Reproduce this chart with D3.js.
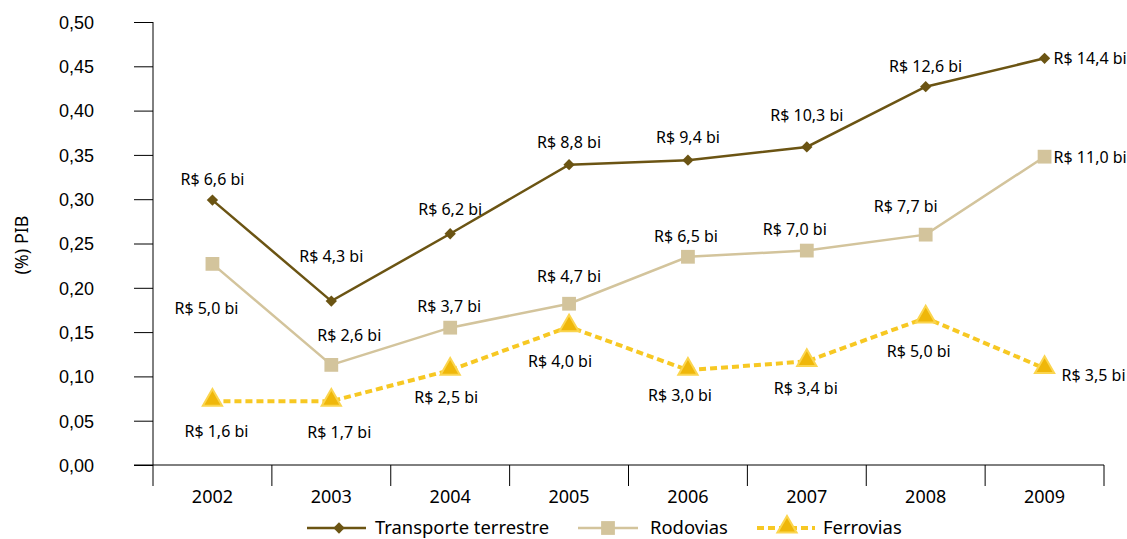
<!DOCTYPE html>
<html>
<head>
<meta charset="utf-8">
<script src="https://cdn.jsdelivr.net/npm/d3@7"></script>
<style>
  html, body { margin: 0; padding: 0; background: #fff; }
  svg { display: block; font-family: "Noto Sans", "Open Sans", sans-serif; }
</style>
</head>
<body>
<svg id="chart" width="1127" height="539"></svg>
<script>
// Investment in land transport as share of GDP, 2002–2009
const years = ["2002", "2003", "2004", "2005", "2006", "2007", "2008", "2009"];
const transporte = [0.299, 0.185, 0.261, 0.339, 0.344, 0.359, 0.427, 0.459];
const rodovias   = [0.227, 0.113, 0.155, 0.182, 0.235, 0.242, 0.260, 0.348];
const ferrovias  = [0.072, 0.072, 0.107, 0.156, 0.107, 0.117, 0.166, 0.109];
const transporteLabels = ["R$ 6,6 bi", "R$ 4,3 bi", "R$ 6,2 bi", "R$ 8,8 bi", "R$ 9,4 bi", "R$ 10,3 bi", "R$ 12,6 bi", "R$ 14,4 bi"];
const rodoviasLabels   = ["R$ 5,0 bi", "R$ 2,6 bi", "R$ 3,7 bi", "R$ 4,7 bi", "R$ 6,5 bi", "R$ 7,0 bi", "R$ 7,7 bi", "R$ 11,0 bi"];
const ferroviasLabels  = ["R$ 1,6 bi", "R$ 1,7 bi", "R$ 2,5 bi", "R$ 4,0 bi", "R$ 3,0 bi", "R$ 3,4 bi", "R$ 5,0 bi", "R$ 3,5 bi"];
const yTicks = [0, 0.05, 0.10, 0.15, 0.20, 0.25, 0.30, 0.35, 0.40, 0.45, 0.50];

// label placement relative to each point: [dx, dy, anchor]
const transporteOffsets = [[0,-21,"middle"],[0,-45,"middle"],[0,-24,"middle"],[0,-22,"middle"],[0,-23,"middle"],[0,-32,"middle"],[0,-20,"middle"],[9,0,"start"]];
const rodoviasOffsets   = [[-6,45,"middle"],[18,-29,"middle"],[-1,-21,"middle"],[0,-27,"middle"],[-2,-20,"middle"],[-12,-21,"middle"],[-20,-28,"middle"],[9,1,"start"]];
const ferroviasOffsets  = [[4,30,"middle"],[8,31,"middle"],[-4,27,"middle"],[-9,35,"middle"],[-8,25,"middle"],[-1,27,"middle"],[-7,33,"middle"],[17,7,"start"]];

const colTrans = "#6b5413";
const colRod = "#d3c49c";
const colFer = "#f7c823";
const colFerMark = "#efb70a";
const colFerEdge = "#fbd54f";

const svg = d3.select("#chart");
const plotLeft = 153, plotRight = 1104, plotTop = 22, plotBottom = 465;

const x = d3.scaleBand().domain(years).range([plotLeft, plotRight]);
const y = d3.scaleLinear().domain([0, 0.5]).range([plotBottom, plotTop]);
const fmt = v => d3.format(".2f")(v).replace(".", ",");

// y axis
const yAxis = svg.append("g")
  .attr("transform", `translate(${plotLeft},0)`)
  .call(d3.axisLeft(y).tickValues(yTicks).tickFormat(fmt).tickSize(19).tickSizeOuter(0));
yAxis.select(".domain").remove();
yAxis.selectAll(".tick line").attr("stroke", "#000").attr("stroke-width", 1);
yAxis.selectAll(".tick text").attr("font-size", 18).attr("fill", "#000").attr("x", -59).attr("text-anchor", "end").attr("dy", "0.35em");
svg.append("line").attr("x1", plotLeft).attr("x2", plotLeft).attr("y1", plotTop).attr("y2", plotBottom + 21)
  .attr("stroke", "#000").attr("stroke-width", 1);

// x axis: baseline, category separators and labels
svg.append("line").attr("x1", plotLeft - 19).attr("x2", plotRight).attr("y1", plotBottom).attr("y2", plotBottom)
  .attr("stroke", "#000").attr("stroke-width", 1);
const bounds = years.map(d => x(d)).concat([x(years[years.length - 1]) + x.bandwidth()]);
svg.append("g").selectAll("line").data(bounds.slice(1)).join("line")
  .attr("x1", d => d).attr("x2", d => d).attr("y1", plotBottom).attr("y2", plotBottom + 21)
  .attr("stroke", "#000").attr("stroke-width", 1);
svg.append("g").selectAll("text").data(years).join("text")
  .attr("x", d => x(d) + x.bandwidth() / 2).attr("y", plotBottom + 38)
  .attr("text-anchor", "middle").attr("font-size", 18).attr("fill", "#000").text(d => d);

// y axis title
svg.append("text").attr("transform", "translate(28,245) rotate(-90)")
  .attr("text-anchor", "middle").attr("font-size", 18).attr("fill", "#000").text("(%) PIB");

const cx = i => x(years[i]) + x.bandwidth() / 2;
const line = d3.line().x((d, i) => cx(i)).y(d => y(d));

const diamond = d3.symbol().type(d3.symbolSquare).size(64);
const square = d3.symbol().type(d3.symbolSquare).size(190);
const triangle = d3.symbol().type(d3.symbolTriangle).size(160);

// Ferrovias (drawn first, underneath)
svg.append("path").datum(ferrovias).attr("d", line)
  .attr("fill", "none").attr("stroke", colFer).attr("stroke-width", 4).attr("stroke-dasharray", "7,4");
svg.append("g").selectAll("path").data(ferrovias).join("path")
  .attr("d", triangle).attr("transform", (d, i) => `translate(${cx(i)},${y(d) - 1})`)
  .attr("fill", colFerMark).attr("stroke", colFerEdge).attr("stroke-width", 2);

// Rodovias
svg.append("path").datum(rodovias).attr("d", line)
  .attr("fill", "none").attr("stroke", colRod).attr("stroke-width", 2.5);
svg.append("g").selectAll("path").data(rodovias).join("path")
  .attr("d", square).attr("transform", (d, i) => `translate(${cx(i)},${y(d)})`)
  .attr("fill", colRod);

// Transporte terrestre
svg.append("path").datum(transporte).attr("d", line)
  .attr("fill", "none").attr("stroke", colTrans).attr("stroke-width", 2.5);
svg.append("g").selectAll("path").data(transporte).join("path")
  .attr("d", diamond).attr("transform", (d, i) => `translate(${cx(i)},${y(d)}) rotate(45)`)
  .attr("fill", colTrans);

// value labels
function labels(values, texts, offsets) {
  svg.append("g").selectAll("text").data(values).join("text")
    .attr("x", (d, i) => cx(i) + offsets[i][0])
    .attr("y", (d, i) => y(d) + offsets[i][1])
    .attr("dy", "0.35em")
    .attr("text-anchor", (d, i) => offsets[i][2])
    .attr("font-size", 16).attr("fill", "#000")
    .text((d, i) => texts[i]);
}
labels(transporte, transporteLabels, transporteOffsets);
labels(rodovias, rodoviasLabels, rodoviasOffsets);
labels(ferrovias, ferroviasLabels, ferroviasOffsets);

// legend
const ly = 528;
const lg = svg.append("g");
lg.append("line").attr("x1", 307).attr("x2", 366).attr("y1", ly).attr("y2", ly).attr("stroke", colTrans).attr("stroke-width", 2.5);
lg.append("path").attr("d", diamond).attr("transform", `translate(339,${ly}) rotate(45)`).attr("fill", colTrans);
lg.append("text").attr("x", 375).attr("y", ly).attr("dy", "0.33em").attr("font-size", 18.4).text("Transporte terrestre");

lg.append("line").attr("x1", 578).attr("x2", 638).attr("y1", ly).attr("y2", ly).attr("stroke", colRod).attr("stroke-width", 2.5);
lg.append("path").attr("d", square).attr("transform", `translate(608,${ly})`).attr("fill", colRod);
lg.append("text").attr("x", 650).attr("y", ly).attr("dy", "0.33em").attr("font-size", 18.4).text("Rodovias");

lg.append("line").attr("x1", 757).attr("x2", 815).attr("y1", ly).attr("y2", ly).attr("stroke", colFer).attr("stroke-width", 4).attr("stroke-dasharray", "7,4");
lg.append("path").attr("d", triangle).attr("transform", `translate(787,${ly - 1})`).attr("fill", colFerMark).attr("stroke", colFerEdge).attr("stroke-width", 2);
lg.append("text").attr("x", 823).attr("y", ly).attr("dy", "0.33em").attr("font-size", 18.4).text("Ferrovias");
</script>
</body>
</html>
